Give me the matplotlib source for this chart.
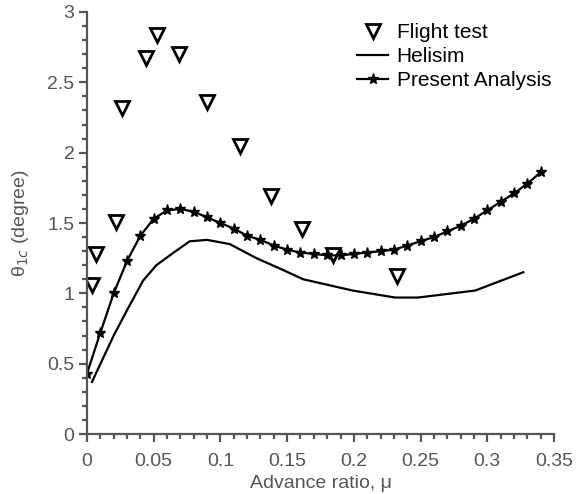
import numpy as np
import matplotlib.pyplot as plt
from matplotlib.ticker import MultipleLocator

plt.rcParams['font.family'] = ['Liberation Sans', 'DejaVu Sans']

# flight test points
mu_flight = [0.0037, 0.0067, 0.022, 0.026, 0.044, 0.0525, 0.069, 0.090,
             0.115, 0.138, 0.161, 0.184, 0.232]
th_flight = [1.06, 1.28, 1.51, 2.32, 2.67, 2.84, 2.70, 2.36,
             2.05, 1.69, 1.46, 1.27, 1.12]

# Helisim curve
mu_heli = [0.0037, 0.02, 0.030, 0.042, 0.052, 0.065, 0.077, 0.090, 0.107,
           0.127, 0.146, 0.162, 0.199, 0.231, 0.248, 0.291, 0.327]
th_heli = [0.37, 0.70, 0.88, 1.09, 1.20, 1.29, 1.37, 1.38, 1.35,
           1.25, 1.17, 1.10, 1.02, 0.97, 0.97, 1.02, 1.15]

# present analysis, every 0.01
mu_pres = [0.00, 0.01, 0.02, 0.03, 0.04, 0.05, 0.06, 0.07, 0.08, 0.09,
           0.10, 0.11, 0.12, 0.13, 0.14, 0.15, 0.16, 0.17, 0.18, 0.19,
           0.20, 0.21, 0.22, 0.23, 0.24, 0.25, 0.26, 0.27, 0.28, 0.29,
           0.30, 0.31, 0.32, 0.33, 0.34]
th_pres = [0.43, 0.72, 1.00, 1.23, 1.41, 1.53, 1.59, 1.60, 1.58, 1.54,
           1.50, 1.46, 1.41, 1.38, 1.34, 1.31, 1.29, 1.28, 1.27, 1.27,
           1.28, 1.29, 1.30, 1.31, 1.34, 1.37, 1.40, 1.44, 1.48, 1.53,
           1.59, 1.65, 1.71, 1.78, 1.86]

xtick_labels = ['0', '0.05', '0.1', '0.15', '0.2', '0.25', '0.3', '0.35']
ytick_labels = ['0', '0.5', '1', '1.5', '2', '2.5', '3']

W, H = 583, 494
fig = plt.figure(figsize=(W / 100, H / 100), dpi=100)
ax = fig.add_axes([87 / W, 60 / H, (554 - 87) / W, (434 - 12) / H])

ax.plot(mu_flight, th_flight, linestyle='none', marker='v', markersize=10,
        markerfacecolor='white', markeredgecolor='black', markeredgewidth=2,
        label='Flight test')
ax.plot(mu_heli, th_heli, color='black', lw=1.6, label='Helisim')
ax.plot(mu_pres, th_pres, color='black', lw=1.6, marker='*', markersize=8,
        label='Present Analysis')

ax.set_xlim(0, 0.35)
ax.set_ylim(0, 3)
ax.set_xticks(np.arange(0, 0.351, 0.05))
ax.set_xticklabels(xtick_labels)
ax.set_yticks(np.arange(0, 3.01, 0.5))
ax.set_yticklabels(ytick_labels)
ax.xaxis.set_minor_locator(MultipleLocator(0.01))
ax.yaxis.set_minor_locator(MultipleLocator(0.1))

grey = '#555555'
for side in ['top', 'right']:
    ax.spines[side].set_visible(False)
for side in ['left', 'bottom']:
    ax.spines[side].set_color(grey)
    ax.spines[side].set_linewidth(1.6)
ax.tick_params(which='major', direction='out', length=6, width=1.6,
               color=grey, labelcolor=grey, labelsize=14)
ax.tick_params(axis='x', which='major', pad=8)
ax.tick_params(axis='y', which='major', pad=3)
ax.tick_params(which='minor', direction='out', length=3.5, width=1.6, color=grey)

ax.set_xlabel('Advance ratio, \u03bc', color=grey, fontsize=14, labelpad=3)
ax.set_ylabel('\u03b8$_{1c}$ (degree)', color=grey, fontsize=14, labelpad=12)

ax.legend(loc='upper left', bbox_to_anchor=(357 / W, 1 - 23 / H),
          bbox_transform=fig.transFigure, frameon=False, fontsize=15,
          handlelength=1.5, handletextpad=0.4, labelspacing=0.25,
          borderpad=0, borderaxespad=0)

fig.savefig('out.png', dpi=100)
